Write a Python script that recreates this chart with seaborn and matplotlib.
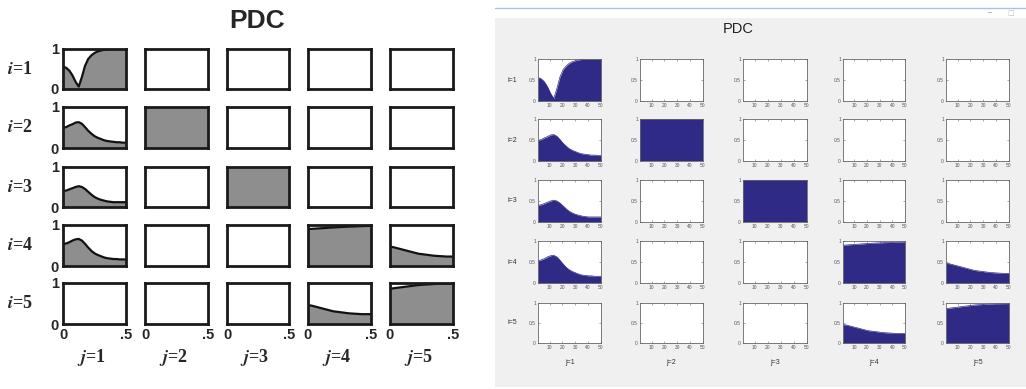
import numpy as np
import matplotlib
matplotlib.use("Agg")
import matplotlib.pyplot as plt
import seaborn as sns
from matplotlib.patches import Rectangle
from matplotlib.lines import Line2D

# ---------------- data ----------------
freq = [0.0, 0.025, 0.05, 0.075, 0.1, 0.125, 0.15, 0.175, 0.2, 0.225, 0.25,
        0.275, 0.3, 0.325, 0.35, 0.375, 0.4, 0.425, 0.45, 0.475, 0.5]
pdc_11 = [0.56, 0.53, 0.46, 0.34, 0.18, 0.06, 0.30, 0.58, 0.75, 0.84, 0.90,
          0.94, 0.96, 0.98, 0.99, 1.0, 1.0, 1.0, 1.0, 1.0, 1.0]
pdc_21 = [0.49, 0.51, 0.55, 0.58, 0.62, 0.63, 0.59, 0.51, 0.42, 0.35, 0.29,
          0.25, 0.22, 0.19, 0.17, 0.16, 0.15, 0.14, 0.14, 0.13, 0.13]
pdc_31 = [0.40, 0.41, 0.44, 0.47, 0.50, 0.52, 0.50, 0.45, 0.38, 0.31, 0.25,
          0.21, 0.18, 0.16, 0.14, 0.13, 0.12, 0.12, 0.12, 0.12, 0.12]
pdc_41 = [0.53, 0.55, 0.58, 0.62, 0.65, 0.66, 0.62, 0.54, 0.45, 0.37, 0.31,
          0.27, 0.24, 0.21, 0.19, 0.18, 0.17, 0.17, 0.16, 0.16, 0.16]
pdc_22 = [1.0] * 21
pdc_33 = [1.0] * 21
pdc_44 = [0.90, 0.905, 0.91, 0.915, 0.92, 0.925, 0.93, 0.935, 0.94, 0.945, 0.95,
          0.953, 0.956, 0.96, 0.963, 0.966, 0.97, 0.972, 0.975, 0.977, 0.98]
pdc_45 = [0.47, 0.46, 0.44, 0.42, 0.40, 0.38, 0.36, 0.34, 0.32, 0.30, 0.29,
          0.28, 0.27, 0.26, 0.25, 0.245, 0.24, 0.235, 0.23, 0.23, 0.23]
pdc_54 = [0.46, 0.45, 0.43, 0.41, 0.39, 0.37, 0.35, 0.33, 0.31, 0.30, 0.29,
          0.28, 0.27, 0.26, 0.255, 0.25, 0.245, 0.24, 0.24, 0.24, 0.24]
pdc_55 = [0.86, 0.87, 0.88, 0.89, 0.90, 0.91, 0.92, 0.93, 0.94, 0.95, 0.955,
          0.96, 0.965, 0.97, 0.975, 0.978, 0.98, 0.982, 0.984, 0.985, 0.985]
bins = [1, 3.45, 5.9, 8.35, 10.8, 13.25, 15.7, 18.15, 20.6, 23.05, 25.5,
        27.95, 30.4, 32.85, 35.3, 37.75, 40.2, 42.65, 45.1, 47.55, 50]
row_labels = ["1", "2", "3", "4", "5"]
col_labels = ["1", "2", "3", "4", "5"]
left_xticklabels = ["0", ".5"]
left_yticklabels = ["0", "1"]
right_xticks = [10, 20, 30, 40, 50]
right_yticks = [0, 0.5, 1]
right_yticklabels = ["0", "0.5", "1"]

curves = {(0, 0): pdc_11, (1, 0): pdc_21, (2, 0): pdc_31, (3, 0): pdc_41,
          (1, 1): pdc_22, (2, 2): pdc_33, (3, 3): pdc_44, (3, 4): pdc_45,
          (4, 3): pdc_54, (4, 4): pdc_55}

# ---------------- figure ----------------
sns.set_theme(style="white")
plt.rcParams['font.family'] = ['Liberation Sans', 'DejaVu Sans']
plt.rcParams['mathtext.fontset'] = 'stix'

W, H = 1026, 389
fig = plt.figure(figsize=(W / 100, H / 100), dpi=100)
fig.patch.set_facecolor("white")


def rect(x0, y0, x1, y1):
    return [x0 / W, 1 - y1 / H, (x1 - x0) / W, (y1 - y0) / H]


# right panel background (screenshot window)
fig.patches.append(Rectangle((495 / W, 1 - 387 / H), (W - 495) / W, (387 - 18) / H,
                             transform=fig.transFigure, facecolor="#f0f0f0",
                             edgecolor="none", zorder=-5))
fig.lines.append(Line2D([495 / W, 1], [1 - 8 / H, 1 - 8 / H], transform=fig.transFigure,
                        color="#a8c4ea", lw=1.0, zorder=-4))
fig.text(990 / W, 1 - 13 / H, "\u2013", fontsize=5, color="#777777", ha="center", va="center")
fig.text(1011 / W, 1 - 13 / H, "\u25a1", fontsize=5, color="#bbbbbb", ha="center", va="center",
         family=['DejaVu Sans'])

# ---------------- left panel ----------------
L_cols = [(63, 126), (145, 208), (227, 289), (308, 371), (390, 453)]
L_rows = [(49, 89), (107, 148), (167, 207), (225, 266), (283, 324)]
fig.text(257 / W, 1 - 21 / H, "PDC", fontsize=19, fontweight="bold",
         ha="center", va="center")

for r, (y0, y1) in enumerate(L_rows):
    for c, (x0, x1) in enumerate(L_cols):
        ax = fig.add_axes(rect(x0, y0, x1, y1))
        ax.set_facecolor("white")
        if (r, c) in curves:
            y = curves[(r, c)]
            ax.fill_between(freq, 0, y, color="#8e8e8e", lw=0)
            if (r, c) not in [(1, 1), (2, 2)]:
                sns.lineplot(x=freq, y=y, ax=ax, color="#111111", lw=1.6)
        ax.set_xlim(0, 0.5)
        ax.set_ylim(0, 1)
        for s in ax.spines.values():
            s.set_linewidth(2.0)
            s.set_color("#1a1a1a")
            s.set_visible(True)
        ax.set_xlabel("")
        ax.set_ylabel("")
        if c == 0:
            ax.set_yticks([0, 1])
            ax.set_yticklabels(left_yticklabels, fontsize=10.5, fontweight="bold")
        else:
            ax.set_yticks([])
        if r == 4:
            ax.set_xticks([0, 0.5])
            ax.set_xticklabels(left_xticklabels, fontsize=10.5, fontweight="bold")
        else:
            ax.set_xticks([])
        ax.tick_params(length=0, pad=3)
    fig.text(20 / W, 1 - ((y0 + y1) / 2) / H, r"$\mathbfit{i}$=" + row_labels[r], fontsize=13,
             fontweight="bold", family="Liberation Serif", ha="center", va="center")

for c, (x0, x1) in enumerate(L_cols):
    fig.text(((x0 + x1) / 2 - 3) / W, 1 - 358 / H, r"$\mathbfit{j}$=" + col_labels[c], fontsize=13,
             fontweight="bold", family="Liberation Serif", ha="center", va="center")

# ---------------- right panel ----------------
R_cols = [(538, 601), (640, 703), (743, 807), (843, 905), (946, 1009)]
R_rows = [(59, 101), (119, 161), (180, 222), (241, 283), (303, 343)]
fig.text(738 / W, 1 - 29 / H, "PDC", fontsize=10.5, color="#222222",
         ha="center", va="center")

for r, (y0, y1) in enumerate(R_rows):
    for c, (x0, x1) in enumerate(R_cols):
        ax = fig.add_axes(rect(x0, y0, x1, y1))
        ax.set_facecolor("white")
        if (r, c) in curves:
            y = curves[(r, c)]
            ax.fill_between(bins, 0, y, color="#2f2a86", lw=0)
            sns.lineplot(x=bins, y=y, ax=ax, color="#2f2a86", lw=0.5)
        ax.set_xlim(1, 50)
        ax.set_ylim(0, 1)
        ax.set_xlabel("")
        ax.set_ylabel("")
        for s in ax.spines.values():
            s.set_linewidth(0.6)
            s.set_color("#666666")
            s.set_visible(True)
        ax.set_xticks(right_xticks)
        ax.set_xticklabels([str(t) for t in right_xticks], fontsize=3.5)
        ax.set_yticks(right_yticks)
        ax.set_yticklabels(right_yticklabels, fontsize=3.5)
        ax.tick_params(direction="in", length=1.5, width=0.4, pad=1.5, colors="#666666",
                       labelcolor="#555555", top=True, right=True, bottom=True, left=True)
    fig.text(512 / W, 1 - ((y0 + y1) / 2) / H, "i=" + row_labels[r], fontsize=5,
             color="#333333", ha="center", va="center")

for c, (x0, x1) in enumerate(R_cols):
    fig.text(((x0 + x1) / 2) / W, 1 - 362 / H, "j=" + col_labels[c], fontsize=5,
             color="#333333", ha="center", va="center")

fig.savefig("out.png", dpi=100)
